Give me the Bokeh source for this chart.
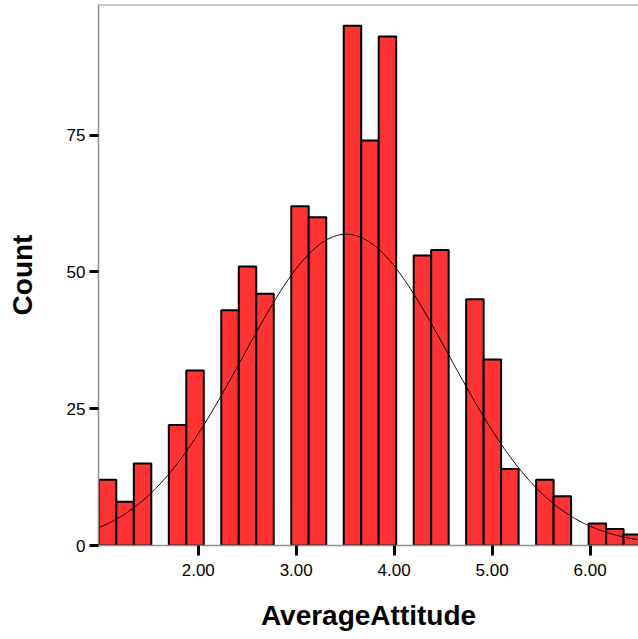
import math
import numpy as np
from bokeh.plotting import figure
from bokeh.models import Range1d, FixedTicker, PrintfTickFormatter, Span
from bokeh.embed import file_html
from bokeh.resources import INLINE

# Histogram data (AverageAttitude scores and their counts)
scores = [1.00, 1.25, 1.50, 1.75, 2.00, 2.25, 2.50, 2.75, 3.00, 3.25, 3.50, 3.75,
          4.00, 4.25, 4.50, 4.75, 5.00, 5.25, 5.50, 5.75, 6.00, 6.25, 6.50]
counts = [12, 8, 15, 22, 32, 43, 51, 46, 62, 60, 95, 74,
          93, 53, 54, 45, 34, 14, 12, 9, 4, 3, 2]
bin_start = 0.985
bin_width = 1.25 / 7
x_ticks = [2, 3, 4, 5, 6]
y_ticks = [0, 25, 50, 75]
x_label = "AverageAttitude"
y_label = "Count"

# bins
lefts, rights = [], []
for s in scores:
    k = math.floor((s - bin_start) / bin_width)
    lefts.append(bin_start + k * bin_width)
    rights.append(bin_start + (k + 1) * bin_width)

# normal curve fitted to the data
sc = np.array(scores)
ct = np.array(counts)
n = ct.sum()
mean = (sc * ct).sum() / n
sd = math.sqrt((ct * (sc - mean) ** 2).sum() / (n - 1))

x0, x1 = 0.9816, 6.4944
y0, y1 = 0, 98.87
xs = np.linspace(x0, x1, 500)
ys = n * bin_width / (sd * math.sqrt(2 * math.pi)) * np.exp(-0.5 * ((xs - mean) / sd) ** 2)

p = figure(width=638, height=639, output_backend="svg", toolbar_location=None,
           x_range=Range1d(x0, x1), y_range=Range1d(y0, y1),
           min_border_left=98, min_border_right=0, min_border_top=4, min_border_bottom=94)
p.grid.visible = False
p.outline_line_color = None
p.background_fill_color = "white"
p.border_fill_color = "white"

p.quad(left=lefts, right=rights, top=counts, bottom=0,
       fill_color="#FF3333", line_color="black", line_width=2)
p.line(xs, ys, line_color="black", line_width=1)

p.add_layout(Span(location=y1, dimension="width", line_color="#999999", line_width=2))

font = "Liberation Sans"
for ax in (p.xaxis[0], p.yaxis[0]):
    ax.axis_line_color = "#909090"
    ax.axis_line_width = 1.5
    ax.major_tick_line_color = "black"
    ax.major_tick_line_width = 3
    ax.major_tick_in = 0
    ax.minor_tick_line_color = None
    ax.major_label_text_font = font
    ax.major_label_text_font_size = "17px"
    ax.major_label_text_color = "black"
    ax.axis_label_text_font = font
    ax.axis_label_text_font_style = "bold"
    ax.axis_label_text_font_size = "28px"
    ax.axis_label_text_color = "black"

p.xaxis.ticker = FixedTicker(ticks=x_ticks)
p.xaxis.formatter = PrintfTickFormatter(format="%.2f")
p.xaxis.major_tick_out = 10
p.xaxis.major_label_standoff = 8
p.xaxis.axis_label = x_label
p.xaxis.axis_label_standoff = 21

p.yaxis.ticker = FixedTicker(ticks=y_ticks)
p.yaxis.major_tick_out = 9
p.yaxis.major_label_standoff = 4
p.yaxis.axis_label = y_label
p.yaxis.axis_label_standoff = 26

open("out.html", "w").write(file_html(p, INLINE))
